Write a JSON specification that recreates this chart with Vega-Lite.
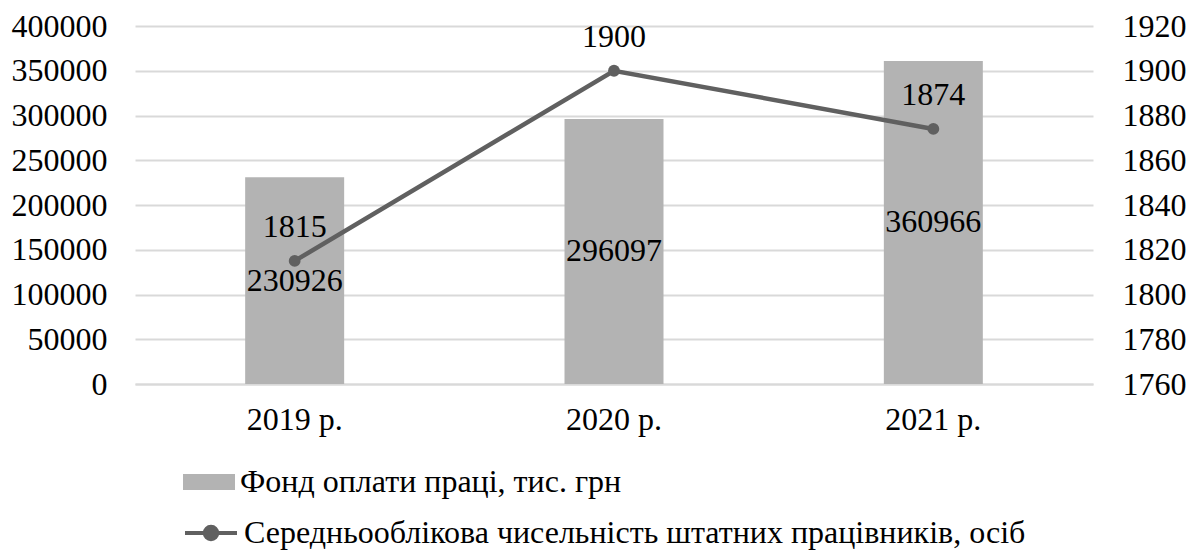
{
  "$schema": "https://vega.github.io/schema/vega-lite/v6.json",
  "width": 958,
  "height": 358,
  "autosize": {"type": "none"},
  "padding": {"left": 135, "top": 26, "right": 104, "bottom": 167},
  "background": "white",
  "config": {
    "view": {"stroke": null},
    "font": "Liberation Serif",
    "text": {"font": "Liberation Serif"},
    "axis": {"labelFont": "Liberation Serif", "labelFontSize": 32, "labelColor": "#000000", "ticks": false, "domain": false, "grid": false},
    "legend": {"labelFont": "Liberation Serif", "labelFontSize": 32, "labelColor": "#000000", "padding": 0, "labelLimit": 1000}
  },
  "data": {
    "values": [
      {"year": "2019 р.", "fond": 230926, "staff": 1815},
      {"year": "2020 р.", "fond": 296097, "staff": 1900},
      {"year": "2021 р.", "fond": 360966, "staff": 1874}
    ]
  },
  "encoding": {
    "x": {
      "field": "year", "type": "nominal", "sort": null, "title": null,
      "scale": {"paddingInner": 0.69, "paddingOuter": 0.345},
      "axis": {"labelAngle": 0, "domain": true, "domainColor": "#d9d9d9", "domainWidth": 2, "labelPadding": 20, "labelBaseline": "top"}
    }
  },
  "layer": [
    {
      "layer": [
        {
          "mark": {"type": "bar"},
          "encoding": {
            "y": {"field": "fond", "type": "quantitative", "title": null,
              "scale": {"domain": [0, 400000], "nice": false},
              "axis": {"values": [0, 50000, 100000, 150000, 200000, 250000, 300000, 350000, 400000], "format": "d", "grid": true, "gridColor": "#d9d9d9", "gridWidth": 2, "labelPadding": 28, "orient": "left"}},
            "fill": {"datum": "Фонд оплати праці, тис. грн", "type": "nominal",
              "scale": {"range": ["#b3b3b3"]},
              "legend": {"title": null, "orient": "none", "legendX": 48, "legendY": 430, "symbolType": "M-1,-0.3077H1V0.3077H-1Z", "symbolSize": 2704, "symbolStrokeWidth": 0, "labelOffset": 5}}
          }
        },
        {
          "transform": [{"calculate": "datum.fond / 2", "as": "mid"}],
          "mark": {"type": "text", "fontSize": 32, "color": "#000000", "baseline": "middle"},
          "encoding": {
            "y": {"field": "mid", "type": "quantitative"},
            "text": {"field": "fond", "type": "quantitative", "format": "d"}
          }
        }
      ]
    },
    {
      "layer": [
        {
          "mark": {"type": "line", "strokeWidth": 4.5},
          "encoding": {
            "y": {"field": "staff", "type": "quantitative", "title": null,
              "scale": {"domain": [1760, 1920], "nice": false, "zero": false},
              "axis": {"orient": "right", "values": [1760, 1780, 1800, 1820, 1840, 1860, 1880, 1900, 1920], "format": "d", "labelPadding": 29}},
            "stroke": {"datum": "Середньооблікова чисельність штатних працівників, осіб", "type": "nominal",
              "scale": {"range": ["#606060"]},
              "legend": {"title": null, "orient": "none", "legendX": 48, "legendY": 479, "symbolType": "M-1,0H1M-0.24,0A0.24,0.24 0 1,0 0.24,0A0.24,0.24 0 1,0 -0.24,0", "symbolSize": 2704, "symbolStrokeWidth": 4, "symbolFillColor": "#606060", "labelOffset": 5}}
          }
        },
        {
          "mark": {"type": "point", "filled": true, "size": 140, "color": "#606060", "opacity": 1},
          "encoding": {
            "y": {"field": "staff", "type": "quantitative"}
          }
        },
        {
          "mark": {"type": "text", "fontSize": 32, "color": "#000000", "baseline": "middle", "dy": -34},
          "encoding": {
            "y": {"field": "staff", "type": "quantitative"},
            "text": {"field": "staff", "type": "quantitative", "format": "d"}
          }
        }
      ]
    }
  ],
  "resolve": {"scale": {"y": "independent"}}
}
